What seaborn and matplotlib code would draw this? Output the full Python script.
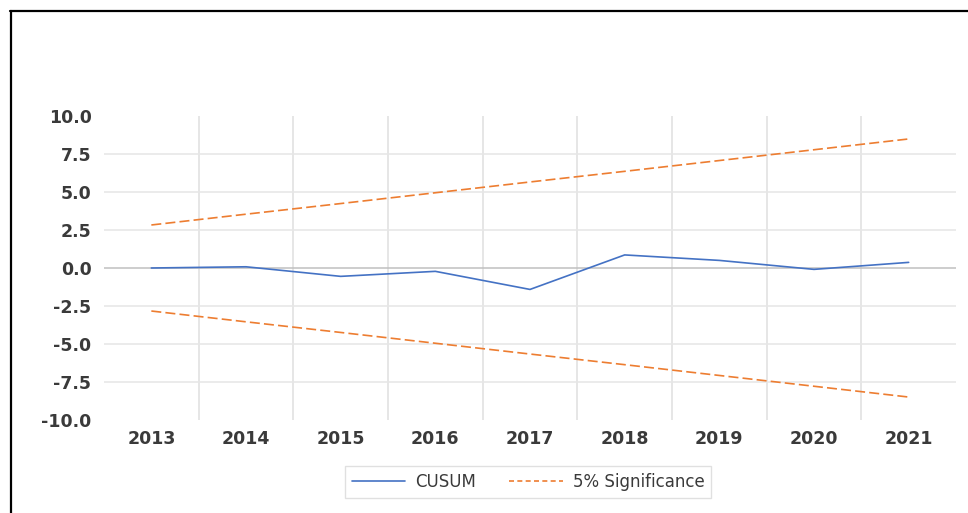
import numpy as np
import pandas as pd
import seaborn as sns
import matplotlib.pyplot as plt
from matplotlib.lines import Line2D

# Data
years = [2013, 2014, 2015, 2016, 2017, 2018, 2019, 2020, 2021]
cusum = [0.0, 0.08, -0.55, -0.22, -1.41, 0.86, 0.50, -0.09, 0.37]
upper_5pct = [2.83, 3.54, 4.24, 4.95, 5.66, 6.36, 7.07, 7.78, 8.49]
lower_5pct = [-2.83, -3.54, -4.24, -4.95, -5.66, -6.36, -7.07, -7.78, -8.49]
y_ticks = [-10.0, -7.5, -5.0, -2.5, 0.0, 2.5, 5.0, 7.5, 10.0]

blue = "#4472C4"
orange = "#ED7D31"
text_color = "#3a3a3a"
grid_color = "#e6e6e6"

df = pd.concat(
    [
        pd.DataFrame({"year": years, "value": cusum, "series": "CUSUM", "part": "c"}),
        pd.DataFrame({"year": years, "value": upper_5pct, "series": "5% Significance", "part": "u"}),
        pd.DataFrame({"year": years, "value": lower_5pct, "series": "5% Significance", "part": "l"}),
    ],
    ignore_index=True,
)

sns.set_theme(style="white")
plt.rcParams["font.family"] = ["DejaVu Sans"]

fig = plt.figure(figsize=(9.68, 5.13), dpi=100)
ax = fig.add_axes([104 / 968, 1 - 420 / 513, 852 / 968, 304 / 513])

# Grid: horizontal lines at inner ticks, vertical lines between categories
for y in y_ticks[1:-1]:
    if y == 0:
        continue
    ax.axhline(y, color=grid_color, lw=1.1, zorder=0)
for x in np.arange(years[0] + 0.5, years[-1], 1.0):
    ax.axvline(x, color=grid_color, lw=1.4, zorder=0)
ax.axhline(0, color="#c0c0c0", lw=1.1, zorder=1)

sns.lineplot(
    data=df,
    x="year",
    y="value",
    hue="series",
    style="series",
    units="part",
    estimator=None,
    palette={"CUSUM": blue, "5% Significance": orange},
    dashes={"CUSUM": "", "5% Significance": (6, 2.5)},
    lw=1.2,
    ax=ax,
    zorder=3,
)

ax.set_xlim(years[0] - 0.5, years[-1] + 0.5)
ax.set_ylim(-10, 10)
ax.set_xticks(years)
ax.set_xticklabels([str(y) for y in years])
ax.set_yticks(y_ticks)
ax.set_yticklabels([f"{t:.1f}" for t in y_ticks])
ax.set_xlabel("")
ax.set_ylabel("")
ax.tick_params(axis="both", length=0, labelsize=12.5, labelcolor=text_color)
ax.tick_params(axis="y", pad=9)
ax.tick_params(axis="x", pad=7)
for lab in ax.get_xticklabels() + ax.get_yticklabels():
    lab.set_fontweight("bold")
for s in ax.spines.values():
    s.set_visible(False)

handles = [
    Line2D([], [], color=blue, lw=1.2),
    Line2D([], [], color=orange, lw=1.2, dashes=(3, 2)),
]
ax.legend(
    handles,
    ["CUSUM", "5% Significance"],
    loc="center",
    bbox_to_anchor=(528 / 968, 1 - 482 / 513),
    bbox_transform=fig.transFigure,
    ncol=2,
    frameon=True,
    fancybox=False,
    edgecolor="#d9d9d9",
    fontsize=12,
    handlelength=3.2,
    handletextpad=0.6,
    columnspacing=2.0,
    borderpad=0.4,
    labelcolor=text_color,
)

# Frame lines along the top and left of the picture
fig.add_artist(Line2D([10 / 968, 1], [1 - 11 / 513, 1 - 11 / 513], color="black", lw=1.6, transform=fig.transFigure))
fig.add_artist(Line2D([11 / 968, 11 / 968], [0, 1 - 11 / 513], color="black", lw=1.6, transform=fig.transFigure))

fig.savefig("out.png", dpi=100)
